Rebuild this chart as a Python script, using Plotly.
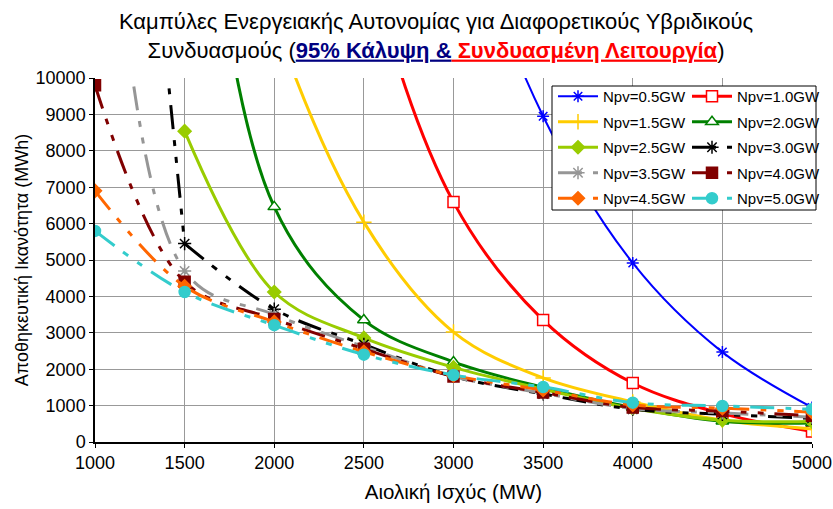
import plotly.graph_objects as go

wind_mw = [1000, 1500, 2000, 2500, 3000, 3500, 4000, 4500, 5000]

npv_05 = [None, None, None, 26000, 15500, 8950, 4920, 2470, 950]
npv_10 = [None, None, 25000, 13500, 6590, 3350, 1620, 780, 290]
npv_15 = [None, 21000, 11600, 6040, 3020, 1760, 1100, 600, 360]
npv_20 = [30000, 18500, 6460, 3350, 2200, 1500, 950, 570, 520]
npv_25 = [None, 8540, 4120, 2860, 2050, 1450, 920, 600, 560]
npv_30 = [30000, 5450, 3650, 2680, 1800, 1320, 900, 760, 650]
npv_35 = [23000, 4700, 3500, 2620, 1800, 1340, 920, 800, 680]
npv_40 = [9800, 4400, 3380, 2560, 1800, 1360, 950, 850, 720]
npv_45 = [6900, 4280, 3300, 2480, 1830, 1430, 1020, 930, 820]
npv_50 = [5800, 4120, 3210, 2400, 1840, 1510, 1080, 990, 900]

names = ["Npv=0.5GW", "Npv=1.0GW", "Npv=1.5GW", "Npv=2.0GW", "Npv=2.5GW",
         "Npv=3.0GW", "Npv=3.5GW", "Npv=4.0GW", "Npv=4.5GW", "Npv=5.0GW"]
series = [npv_05, npv_10, npv_15, npv_20, npv_25, npv_30, npv_35, npv_40, npv_45, npv_50]
colors = ["#0000FF", "#FF0000", "#FFCC00", "#008000", "#99CC00",
          "#000000", "#969696", "#800000", "#FF6600", "#33CCCC"]
symbols = ["asterisk-open", "square", "cross-thin-open", "triangle-up", "diamond",
           "asterisk-open", "asterisk-open", "square", "diamond", "circle"]
msize = [10, 11, 11, 11, 10, 11, 11, 11, 10, 11]
mfill = ["#0000FF", "#FFFFFF", "#FFCC00", "#FFFFFF", "#99CC00",
         "#000000", "#969696", "#800000", "#FF6600", "#33CCCC"]
widths = [2, 3, 3, 3, 3, 3, 3, 3, 3, 3]
dashes = ["solid"] * 5 + ["24px,11px,6px,11px,6px,11px"] * 5
# series whose steep first segment (off the top of the chart) is drawn straight
steep_start = [False] * 5 + [True, False, False, False, False]

fig = go.Figure()
for i, (nm, ys) in enumerate(zip(names, series)):
    xs = [x for x, y in zip(wind_mw, ys) if y is not None]
    yv = [y for y in ys if y is not None]
    leg = "legend" if i % 2 == 0 else "legend2"
    line = dict(color=colors[i], width=widths[i], dash=dashes[i], shape="spline", smoothing=1.0)
    marker = dict(symbol=symbols[i], size=msize[i], color=mfill[i],
                  line=dict(color=colors[i], width=1.5))
    if steep_start[i]:
        fig.add_trace(go.Scatter(
            x=xs[:2], y=yv[:2], mode="lines", showlegend=False, hoverinfo="skip",
            line=dict(color=colors[i], width=widths[i], dash=dashes[i], shape="linear"),
            legend=leg, legendgroup="g%d" % i))
        xs, yv = xs[1:], yv[1:]
    fig.add_trace(go.Scatter(
        x=xs, y=yv, name=nm, mode="lines+markers", line=line, marker=marker,
        legend=leg, legendgroup="g%d" % i,
    ))

L, R, T, B = 95, 812, 78, 442
W, H = 833, 509

def px2x(p):
    return (p - L) / (R - L)

def px2y(p):
    return (B - p) / (B - T)

fig.add_shape(type="rect", xref="paper", yref="paper",
              x0=px2x(552), x1=px2x(816), y0=px2y(210), y1=px2y(86),
              line=dict(color="black", width=1), fillcolor="white", layer="above")

font = "Liberation Sans, Arial, sans-serif"
title = ("Καμπύλες Ενεργειακής Αυτονομίας για Διαφορετικούς Υβριδικούς<br>"
         "Συνδυασμούς (<span style='color:#000080;text-decoration:underline'><b>95% Κάλυψη &</b></span>"
         "<span style='color:#FF0000;text-decoration:underline'><b> Συνδυασμένη Λειτουργία</b></span>)")

legstyle = dict(font=dict(family=font, size=15, color="black"), bgcolor="rgba(0,0,0,0)",
                borderwidth=0, tracegroupgap=3, yanchor="top", xanchor="left", itemwidth=40)

fig.update_layout(
    width=W, height=H, autosize=False,
    margin=dict(l=L, r=W - R, t=T, b=H - B, autoexpand=False),
    paper_bgcolor="white", plot_bgcolor="white",
    font=dict(family=font, size=17, color="black"),
    title=dict(text=title, x=436 / W, xref="container", xanchor="center",
               y=1 - 29 / H, yref="container", yanchor="middle",
               font=dict(family=font, size=22, color="black")),
    xaxis=dict(range=[1000, 5000], tickvals=wind_mw, showgrid=True, gridcolor="#999999",
               gridwidth=1, showline=True, linecolor="black", linewidth=1.5,
               ticks="outside", ticklen=4, tickcolor="black", tickformat="d",
               title=dict(text="Αιολική Ισχύς (MW)", font=dict(size=20.5), standoff=12),
               tickfont=dict(size=18), zeroline=False, automargin=False),
    yaxis=dict(range=[0, 10000], dtick=1000, tick0=0, showgrid=True, gridcolor="#999999",
               gridwidth=1, showline=True, linecolor="black", linewidth=1.5,
               ticks="outside", ticklen=4, tickcolor="black", tickformat="d",
               title=dict(text="Αποθηκευτική Ικανότητα (MWh)", font=dict(size=18), standoff=2),
               tickfont=dict(size=18), zeroline=False, automargin=False),
    legend=dict(x=px2x(553), y=px2y(80), **legstyle),
    legend2=dict(x=px2x(687), y=px2y(80), **legstyle),
    showlegend=True,
)

fig.write_html("out.html", post_script="document.body.style.margin='0px';",
               config={"displayModeBar": False})
